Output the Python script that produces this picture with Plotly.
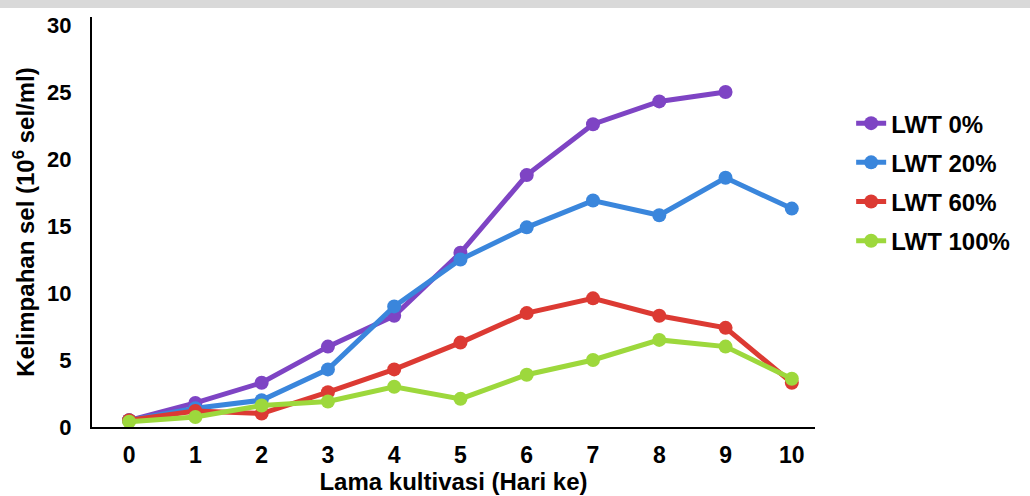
import plotly.graph_objects as go

days = [0, 1, 2, 3, 4, 5, 6, 7, 8, 9, 10]
lwt0 = [0.5, 1.8, 3.3, 6.0, 8.3, 13.0, 18.8, 22.6, 24.3, 25.0, None]
lwt20 = [0.5, 1.4, 2.0, 4.3, 9.0, 12.5, 14.9, 16.9, 15.8, 18.6, 16.3]
lwt60 = [0.5, 1.2, 1.0, 2.6, 4.3, 6.3, 8.5, 9.6, 8.3, 7.4, 3.3]
lwt100 = [0.4, 0.75, 1.6, 1.9, 3.0, 2.1, 3.9, 5.0, 6.5, 6.0, 3.6]
names = ["LWT 0%", "LWT 20%", "LWT 60%", "LWT 100%"]
colors = ["#7e44c4", "#3a86dc", "#dc3a33", "#9dd83c"]
y_ticks = [0, 5, 10, 15, 20, 25, 30]

FONT = "Liberation Sans"
fig = go.Figure()
for i, (name, vals, col) in enumerate(zip(names, [lwt0, lwt20, lwt60, lwt100], colors)):
    fig.add_trace(go.Scatter(
        x=days, y=vals, name=name, mode="lines+markers",
        line=dict(color=col, width=5),
        marker=dict(color=col, size=14),
        legendgroup=f"g{i}",
    ))

fig.update_layout(
    width=1030, height=496,
    margin=dict(l=92, r=215, t=17, b=69),
    paper_bgcolor="white", plot_bgcolor="white",
    font=dict(family=FONT, color="black"),
    xaxis=dict(
        range=[-0.56, 10.35], tickvals=days, ticktext=[str(d) for d in days],
        showline=True, linecolor="black", linewidth=2, showgrid=False, zeroline=False,
        automargin=False,
        ticks="", ticklabelstandoff=6, tickfont=dict(size=23, family=FONT, weight="bold"),
        title=dict(text="Lama kultivasi (Hari ke)", font=dict(size=24, family=FONT, weight="bold"), standoff=0),
    ),
    yaxis=dict(
        range=[0, 30.6], tickvals=y_ticks,
        showline=True, linecolor="black", linewidth=2, showgrid=False, zeroline=False,
        automargin=False,
        ticks="", ticklabelstandoff=14, tickfont=dict(size=22, family=FONT, weight="bold"),
        title=dict(text="Kelimpahan sel (10<sup>6</sup> sel/ml)", font=dict(size=24, family=FONT, weight="bold"), standoff=6),
    ),
    legend=dict(
        x=1.05, y=0.795, xanchor="left", yanchor="top",
        font=dict(size=24, family=FONT, weight="bold"),
        tracegroupgap=5, bgcolor="rgba(0,0,0,0)",
    ),
    showlegend=True,
)
fig.add_shape(type="rect", xref="paper", yref="paper",
              x0=-0.2, x1=1.35, y0=1.022, y1=1.06,
              fillcolor="#d9d9d9", line=dict(width=0), layer="below")

fig.write_html("out.html", config={"displayModeBar": False},
               post_script="document.body.style.margin='0';document.body.style.overflow='hidden';")
